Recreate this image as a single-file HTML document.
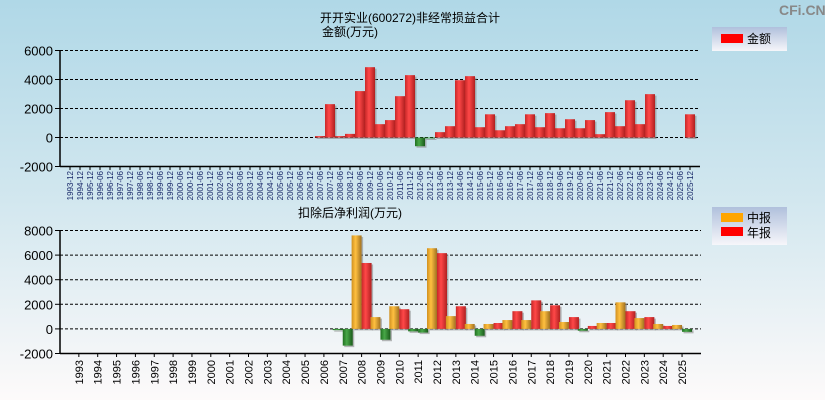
<!DOCTYPE html>
<html><head><meta charset="utf-8"><style>
html,body{margin:0;padding:0;}
body{width:825px;height:400px;overflow:hidden;font-family:"Liberation Sans","Noto Sans CJK SC",sans-serif;}
</style></head><body>
<svg id="c" width="825" height="400" xmlns="http://www.w3.org/2000/svg" font-family="Liberation Sans, Noto Sans CJK SC, sans-serif">
<defs>
<linearGradient id="bg" x1="0" y1="0" x2="0" y2="1"><stop offset="0" stop-color="#b0d8e7"/><stop offset="0.5" stop-color="#d2e7ef"/><stop offset="1" stop-color="#fdfafa"/></linearGradient>
<linearGradient id="gR" x1="0" x2="1"><stop offset="0" stop-color="#c82828"/><stop offset="0.4" stop-color="#ff4848"/><stop offset="1" stop-color="#b02020"/></linearGradient>
<linearGradient id="gY" x1="0" x2="1"><stop offset="0" stop-color="#d09020"/><stop offset="0.4" stop-color="#ffc040"/><stop offset="1" stop-color="#a07020"/></linearGradient>
<linearGradient id="gG" x1="0" x2="1"><stop offset="0" stop-color="#207020"/><stop offset="0.4" stop-color="#48a848"/><stop offset="1" stop-color="#1a5a1a"/></linearGradient>
<linearGradient id="lg" x1="0" y1="0" x2="0" y2="1"><stop offset="0" stop-color="#b0c0dc"/><stop offset="1" stop-color="#f6f6fa"/></linearGradient>
</defs>
<rect width="825" height="400" fill="url(#bg)"/>
<text x="779" y="15" font-size="14" fill="#888" font-weight="bold">CFi.CN</text>
<text x="410" y="22" font-size="12" text-anchor="middle">开开实业(600272)非经常损益合计</text>
<text x="350" y="36" font-size="12" text-anchor="middle">金额(万元)</text>
<text x="350" y="217" font-size="12" text-anchor="middle">扣除后净利润(万元)</text>
<g>
<rect x="712" y="27" width="75" height="24" fill="url(#lg)"/>
<rect x="721" y="34" width="22" height="9" fill="#ff0000"/>
<text x="747" y="43" font-size="12">金额</text>
</g>
<g>
<rect x="712" y="207" width="75" height="38" fill="url(#lg)"/>
<rect x="721" y="213" width="22" height="9" fill="#ffa500"/>
<text x="747" y="222" font-size="12">中报</text>
<rect x="721" y="227" width="22" height="9" fill="#ff0000"/>
<text x="747" y="237" font-size="12">年报</text>
</g>
<g id="top"></g><g id="bot"></g>
</svg>
<script>
const topCats=["1993-12","1994-12","1995-12","1996-06","1996-12","1997-06","1997-12","1998-06","1998-12","1999-06","1999-12","2000-06","2000-12","2001-06","2001-12","2002-06","2002-12","2003-06","2003-12","2004-06","2004-12","2005-06","2005-12","2006-06","2006-12","2007-06","2007-12","2008-06","2008-12","2009-06","2009-12","2010-06","2010-12","2011-06","2011-12","2012-06","2012-12","2013-06","2013-12","2014-06","2014-12","2015-06","2015-12","2016-06","2016-12","2017-06","2017-12","2018-06","2018-12","2019-06","2019-12","2020-06","2020-12","2021-06","2021-12","2022-06","2022-12","2023-06","2023-12","2024-06","2024-12","2025-06","2025-12"];
const topVals=[0,0,0,0,0,0,0,0,0,0,0,0,0,0,0,0,0,0,0,0,0,0,0,0,0,100,2300,100,250,3200,4850,920,1200,2850,4300,-600,-50,370,780,3950,4230,710,1600,500,780,920,1600,710,1680,640,1260,640,1200,230,1750,780,2570,920,2990,0,0,0,1600];
const topTicks=[6000,4000,2000,0,-2000];
const botCats=["1993","1994","1995","1996","1997","1998","1999","2000","2001","2002","2003","2004","2005","2006","2007","2008","2009","2010","2011","2012","2013","2014","2015","2016","2017","2018","2019","2020","2021","2022","2023","2024","2025"];
const midVals=[0,0,0,0,0,0,0,0,0,0,0,0,0,0,-100,7600,960,1840,-200,6560,1040,400,400,720,720,1440,560,-150,480,2160,880,400,320];
const annVals=[0,0,0,0,0,0,0,0,0,0,0,0,0,0,-1360,5360,-880,1600,-300,6160,1840,-560,480,1440,2320,1920,960,240,480,1440,960,240,-240];
const botTicks=[8000,6000,4000,2000,0,-2000];
const NS="http://www.w3.org/2000/svg";
function mk(p,t,a){const e=document.createElementNS(NS,t);for(const k in a)e.setAttribute(k,a[k]);p.appendChild(e);return e;}
function axis(g,x0,x1,yTop,yBot,vMax,vMin,ticks){
  const ys=v=>yTop+(vMax-v)/(vMax-vMin)*(yBot-yTop);
  ticks.forEach(t=>{
    const y=ys(t);
    if(t!==vMin){const l=mk(g,'line',{x1:x0,x2:x1,y1:y,y2:y,stroke:'#000','stroke-dasharray':'3,2','stroke-width':1});
    
    }
    mk(g,'line',{x1:x0-5,x2:x0,y1:y,y2:y,stroke:'#000'});
    const tx=mk(g,'text',{x:x0-7,y:y+5,'font-size':13,'text-anchor':'end',fill:'#000'});tx.textContent=t;
    
    
  });
  mk(g,'line',{x1:x0,x2:x0,y1:yTop,y2:yBot,stroke:'#000','stroke-width':1.5});
  mk(g,'line',{x1:x0,x2:x1,y1:yBot,y2:yBot,stroke:'#000','stroke-width':1.5});
  return ys;
}
function bar(g,x,w,v,ys,fill,name){
  const y0=ys(0),y1=ys(v);if(v===0)return;
  const top=Math.min(y0,y1),h=Math.max(Math.abs(y1-y0),1);
  mk(g,'rect',{x:x+1.5,y:top+1.5,width:w,height:h,fill:'#888',opacity:0.6});
  const r=mk(g,'rect',{x:x,y:top,width:w,height:h,fill:v<0?'url(#gG)':fill});
  
  
}
// top chart
(function(){
  const g=document.getElementById('top');
  const x0=60,x1=700,step=10;
  const ys=axis(g,x0,x1,50.5,166.5,6000,-2000,topTicks);
  topCats.forEach((c,i)=>{
    const cx=x0+step*(i+1);
    mk(g,'line',{x1:cx,x2:cx,y1:166.5,y2:170,stroke:'#000'});
    const t=mk(g,'text',{x:0,y:0,'font-size':8,'text-anchor':'end',fill:'#1a2a6a',transform:`translate(${cx+3},171) rotate(-90)`});
    t.textContent=c;
    
    
    bar(g,cx-5,10,topVals[i],ys,'url(#gR)','bar-amount');
  });
})();
// bottom chart
(function(){
  const g=document.getElementById('bot');
  const x0=60,x1=701,step=18.85;
  const ys=axis(g,x0,x1,230.5,353.5,8000,-2000,botTicks);
  botCats.forEach((c,i)=>{
    const cx=x0+step*(i+1);
    mk(g,'line',{x1:cx,x2:cx,y1:353.5,y2:357,stroke:'#000'});
    const t=mk(g,'text',{x:0,y:0,'font-size':11,'text-anchor':'end',fill:'#000',transform:`translate(${cx+4},360) rotate(-90)`});
    t.textContent=c;
    
    
    bar(g,cx-10,10,midVals[i],ys,'url(#gY)','bar-interim');
    bar(g,cx,10,annVals[i],ys,'url(#gR)','bar-annual');
  });
})();
</script>
</body></html>
